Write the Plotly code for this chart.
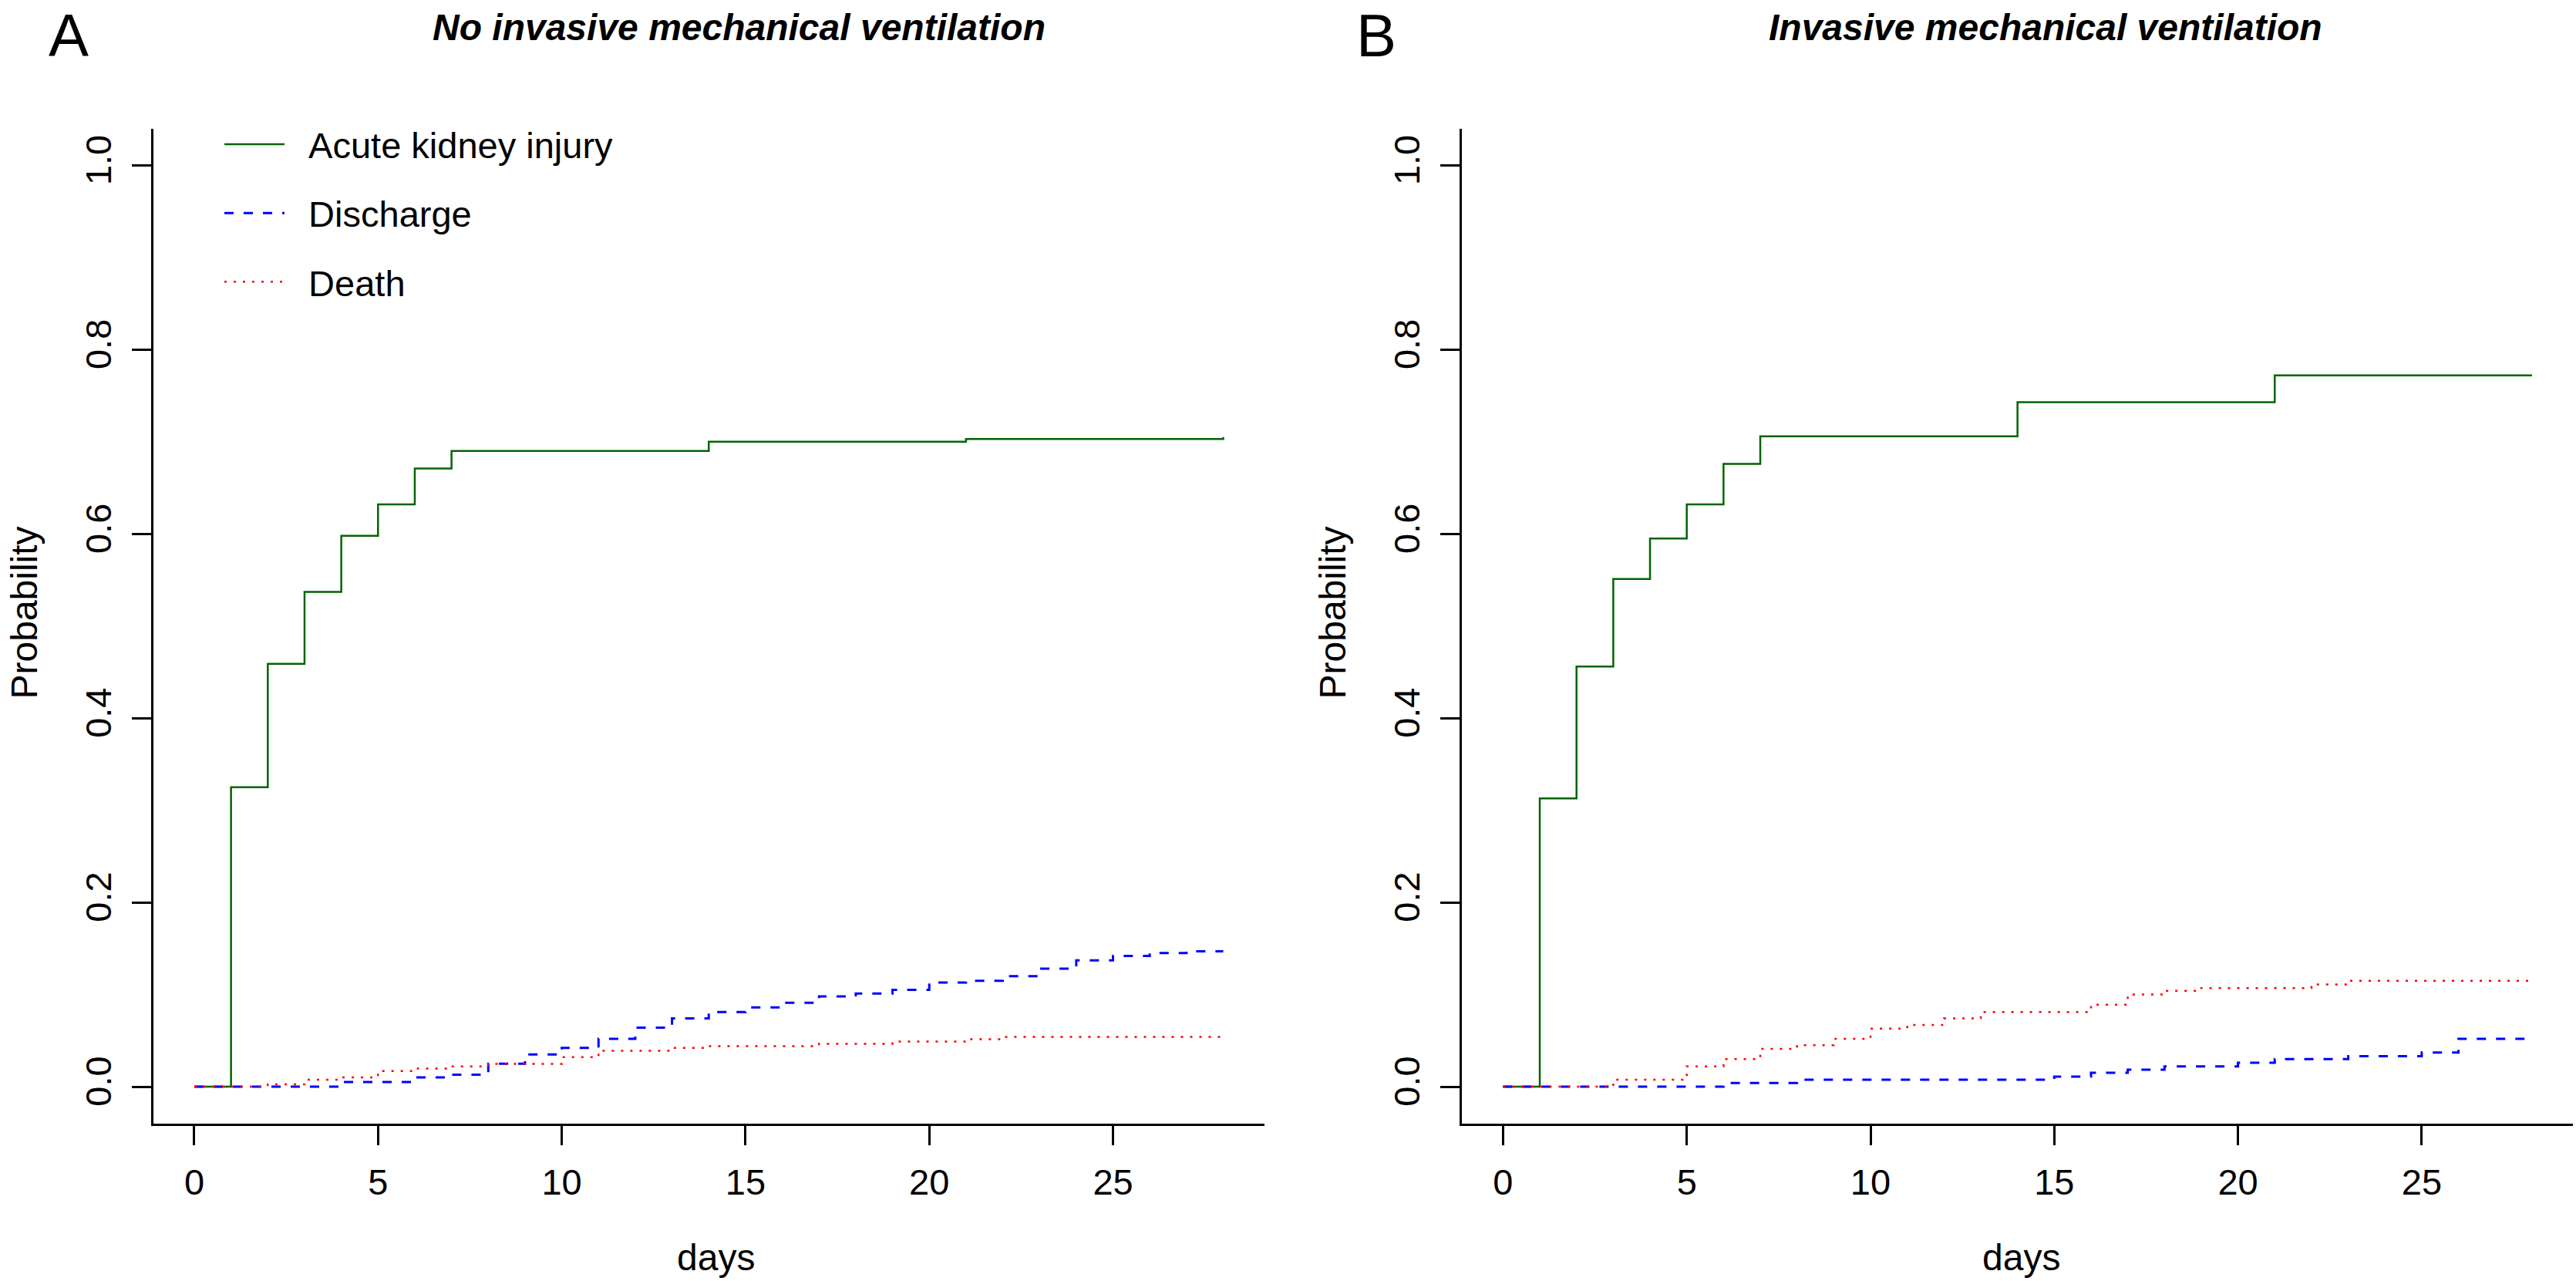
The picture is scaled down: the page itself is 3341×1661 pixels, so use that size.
import plotly.graph_objects as go

W, H = 3341, 1661

# ---------------- data ----------------
days = list(range(29))

# Panel A: no invasive mechanical ventilation
aki_a = [0.000, 0.325, 0.459, 0.537, 0.598, 0.632, 0.671,
         0.690, 0.690, 0.690, 0.690, 0.690, 0.690, 0.690,
         0.700, 0.700, 0.700, 0.700, 0.700, 0.700, 0.700,
         0.703, 0.703, 0.703, 0.703, 0.703, 0.703, 0.703, 0.705]
discharge_a = [0.000, 0.000, 0.000, 0.000, 0.005, 0.005, 0.010, 0.013,
               0.025, 0.035, 0.042, 0.052, 0.064, 0.074, 0.081, 0.086,
               0.091, 0.098, 0.101, 0.105, 0.113, 0.115, 0.120, 0.128,
               0.137, 0.142, 0.145, 0.147, 0.147]
death_a = [0.000, 0.000, 0.0025, 0.0076, 0.010, 0.017, 0.0196, 0.022,
           0.0247, 0.0247, 0.032, 0.039, 0.039, 0.042, 0.044, 0.044,
           0.044, 0.0465, 0.0465, 0.049, 0.049, 0.0516, 0.054, 0.054,
           0.054, 0.054, 0.054, 0.054, 0.054]

# Panel B: invasive mechanical ventilation
aki_b = [0.000, 0.313, 0.456, 0.551, 0.595, 0.632, 0.676,
         0.706, 0.706, 0.706, 0.706, 0.706, 0.706, 0.706,
         0.743, 0.743, 0.743, 0.743, 0.743, 0.743, 0.743,
         0.772, 0.772, 0.772, 0.772, 0.772, 0.772, 0.772, 0.772]
discharge_b = [0.000, 0.000, 0.000, 0.000, 0.000, 0.000, 0.004, 0.004,
               0.0076, 0.0076, 0.0076, 0.0076, 0.0076, 0.0076, 0.0076, 0.011,
               0.015, 0.0185, 0.022, 0.022, 0.026, 0.030, 0.030, 0.033,
               0.033, 0.037, 0.052, 0.052, 0.052]
death_b = [0.000, 0.000, 0.000, 0.0076, 0.0076, 0.022, 0.030, 0.041,
           0.045, 0.052, 0.063, 0.067, 0.074, 0.081, 0.081, 0.081,
           0.089, 0.100, 0.104, 0.107, 0.107, 0.107, 0.111, 0.115,
           0.115, 0.115, 0.115, 0.115, 0.115]

series_names = ["Acute kidney injury", "Discharge", "Death"]
x_ticks = [0, 5, 10, 15, 20, 25]
y_ticks = [0.0, 0.2, 0.4, 0.6, 0.8, 1.0]
y_ticktext = ["0.0", "0.2", "0.4", "0.6", "0.8", "1.0"]
panel_titles = ["No invasive mechanical ventilation", "Invasive mechanical ventilation"]
panel_letters = ["A", "B"]

# ---------------- styles ----------------
FONT = "Liberation Sans, Arial, Helvetica, sans-serif"
styles = [
    dict(color="#006400", width=2.5, dash="solid"),
    dict(color="#0000FF", width=3, dash="12px,13px"),
    dict(color="#FF0000", width=2.5, dash="3px,9px"),
]

fig = go.Figure()

panels = [
    ("x", "y", [aki_a, discharge_a, death_a], True),
    ("x2", "y2", [aki_b, discharge_b, death_b], False),
]
for xa, ya, vals, show in panels:
    for name, v, st in zip(series_names, vals, styles):
        fig.add_trace(go.Scatter(
            x=days, y=v, mode="lines", name="&nbsp;&nbsp;" + name,
            line=dict(color=st["color"], width=st["width"], dash=st["dash"], shape="hv"),
            xaxis=xa, yaxis=ya, showlegend=show, legendgroup=name,
        ))

def px_x(p):
    return p / W

def px_y(p):
    return 1 - p / H

dom_y = [px_y(1456.8), px_y(166.7)]
dom_xa = [px_x(198.6), px_x(1639.9)]
dom_xb = [px_x(1896.0), px_x(3337.3)]

axis_common = dict(
    showgrid=False, zeroline=False, showline=True, linecolor="black", linewidth=3,
    ticks="outside", ticklen=25, tickwidth=2.5, tickcolor="black",
    tickfont=dict(family=FONT, size=47, color="black"),
)

fig.update_layout(
    width=W, height=H, autosize=False,
    margin=dict(l=0, r=0, t=0, b=0),
    paper_bgcolor="white", plot_bgcolor="white",
    showlegend=True,
    legend=dict(
        x=px_x(286), y=px_y(150), xanchor="left", yanchor="top",
        font=dict(family=FONT, size=47, color="black"),
        itemwidth=78, tracegroupgap=25, bgcolor="rgba(0,0,0,0)",
    ),
    xaxis=dict(domain=dom_xa, range=[-1.12, 29.12], tickvals=x_ticks, anchor="y",
               ticklabelstandoff=8, **axis_common),
    yaxis=dict(domain=dom_y, range=[-0.04, 1.04], tickvals=y_ticks, ticktext=y_ticktext,
               tickangle=-90, anchor="x", ticklabelstandoff=8, **axis_common),
    xaxis2=dict(domain=dom_xb, range=[-1.12, 29.12], tickvals=x_ticks, anchor="y2",
                ticklabelstandoff=8, **axis_common),
    yaxis2=dict(domain=dom_y, range=[-0.04, 1.04], tickvals=y_ticks, ticktext=y_ticktext,
                tickangle=-90, anchor="x2", ticklabelstandoff=8, **axis_common),
)

ann = []
# panel titles
for t, cx in zip(panel_titles, [959, 2653]):
    ann.append(dict(text="<b><i>%s</i></b>" % t, x=px_x(cx), y=px_y(36), xref="paper", yref="paper",
                    xanchor="center", yanchor="middle", showarrow=False,
                    font=dict(family=FONT, size=48, color="black")))
# panel letters
for t, cx in zip(panel_letters, [89, 1785]):
    ann.append(dict(text=t, x=px_x(cx), y=1, xref="paper", yref="paper",
                    xanchor="center", yanchor="top", showarrow=False,
                    font=dict(family=FONT, size=78, color="black")))
# axis titles
for cx in [928, 2621]:
    ann.append(dict(text="days", x=px_x(cx), y=px_y(1630), xref="paper", yref="paper",
                    xanchor="center", yanchor="middle", showarrow=False,
                    font=dict(family=FONT, size=48, color="black")))
for cx in [2, 1699]:
    ann.append(dict(text="Probability", x=px_x(cx), y=px_y(795), xref="paper", yref="paper",
                    xanchor="left", yanchor="middle", showarrow=False, textangle=-90,
                    font=dict(family=FONT, size=48, color="black")))
fig.update_layout(annotations=ann)

fig.write_html("out.html")
